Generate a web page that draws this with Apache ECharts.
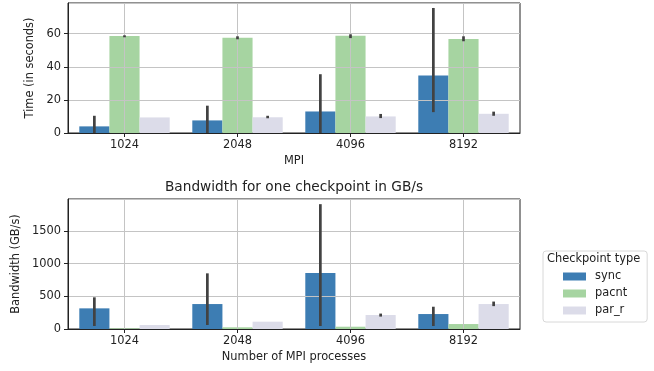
<!DOCTYPE html>
<html>
<head>
<meta charset="utf-8">
<script src="https://cdn.jsdelivr.net/npm/echarts@6/dist/echarts.min.js"></script>
<style>
  html, body { margin: 0; padding: 0; background: #fff; }
  #chart { width: 654px; height: 371px; }
</style>
</head>
<body>
<div id="chart"></div>
<script>
// Process counts on both x axes
const categories = ['1024', '2048', '4096', '8192'];
const seriesNames = ['sync', 'pacnt', 'par_r'];
const colors = ['#3d7db3', '#a6d4a1', '#dcdce9'];

// Checkpoint time in seconds (mean per type)
const timeSync  = [4, 7.6, 13, 34.7];
const timePacnt = [58.5, 57.5, 58.7, 56.7];
const timeParR  = [9.4, 9.5, 10, 11.6];
// Confidence interval bounds [low, high]
const timeSyncCI  = [[0, 10.4], [0, 16.5], [0, 35.5], [12.6, 75.5]];
const timePacntCI = [[57.8, 59], [56.6, 58.4], [57.3, 59.6], [55.4, 58.4]];
const timeParRCI  = [[9.4, 9.4], [8.9, 10.4], [9, 11.5], [10.4, 12.9]];

// Bandwidth in GB/s (mean per type)
const bwSync  = [316, 382, 856, 229];
const bwPacnt = [10, 26, 35, 76];
const bwParR  = [61, 112, 214, 382];
const bwSyncCI  = [[46, 485], [61, 852], [46, 1911], [46, 341]];
const bwPacntCI = [[10, 10], [26, 26], [35, 35], [76, 76]];
const bwParRCI  = [[61, 61], [112, 112], [190, 236], [350, 420]];

const FONT = 'DejaVu Sans';
const FS = 11.4;
const TXT = '#222';

const chart = echarts.init(document.getElementById('chart'), null, { renderer: 'canvas' });

function errSeries(name, ci, k, axisIdx) {
  return {
    type: 'custom',
    name: name + ' ci',
    xAxisIndex: axisIdx,
    yAxisIndex: axisIdx,
    z: 5,
    silent: true,
    data: ci.map((d, i) => [i, d[0], d[1]]),
    encode: { x: 0, y: [1, 2] },
    renderItem: function (params, api) {
      const idx = api.value(0);
      const band = api.size([1, 0])[0];
      const off = (k - 1) * band * 0.8 / 3;
      const lo = api.coord([idx, api.value(1)]);
      const hi = api.coord([idx, api.value(2)]);
      if (Math.abs(lo[1] - hi[1]) < 0.5) return null;
      return {
        type: 'line',
        shape: { x1: lo[0] + off, y1: lo[1], x2: lo[0] + off, y2: hi[1] },
        style: { stroke: '#424242', lineWidth: 2.7 }
      };
    }
  };
}

function barSeries(name, data, k, axisIdx) {
  return {
    type: 'bar',
    name: name,
    xAxisIndex: axisIdx,
    yAxisIndex: axisIdx,
    data: data,
    barGap: '0%',
    barCategoryGap: '20%',
    itemStyle: { color: colors[k] },
    z: 2
  };
}

function xAxisCfg(gridIndex, name) {
  return {
    type: 'category',
    gridIndex: gridIndex,
    data: categories,
    z: 3,
    name: name,
    nameLocation: 'middle',
    nameGap: 23,
    nameTextStyle: { fontFamily: FONT, fontSize: FS, color: TXT },
    axisLine: { show: true, lineStyle: { color: '#222', width: 1 } },
    axisTick: { show: true, alignWithLabel: true, length: 4, lineStyle: { color: '#222' } },
    axisLabel: { fontFamily: FONT, fontSize: FS, color: TXT, margin: 7 },
    splitLine: { show: true, alignWithLabel: true, lineStyle: { color: '#c4c4c4', width: 1 } }
  };
}

function yAxisCfg(gridIndex, name, max, interval, gap) {
  return {
    type: 'value',
    gridIndex: gridIndex,
    min: 0,
    max: max,
    interval: interval,
    z: 3,
    name: name,
    nameLocation: 'middle',
    nameGap: gap,
    nameTextStyle: { fontFamily: FONT, fontSize: FS, color: TXT },
    axisLine: { show: true, lineStyle: { color: '#222', width: 1 } },
    axisTick: { show: true, length: 4, lineStyle: { color: '#222' } },
    axisLabel: {
      fontFamily: FONT, fontSize: FS, color: TXT, margin: 7, showMaxLabel: false,
      formatter: v => String(v)
    },
    splitLine: { show: true, lineStyle: { color: '#c4c4c4', width: 1 } }
  };
}

const option = {
  animation: false,
  backgroundColor: '#fff',
  title: {
    text: 'Bandwidth for one checkpoint in GB/s',
    left: 294,
    top: 180,
    padding: 0,
    textAlign: 'center',
    textStyle: { fontFamily: FONT, fontSize: 13.7, fontWeight: 'normal', color: TXT }
  },
  legend: {
    data: seriesNames,
    orient: 'vertical',
    left: 543,
    top: 251,
    padding: [19, 20, 5, 20],
    itemGap: 4,
    itemWidth: 23,
    itemHeight: 8,
    icon: 'rect',
    borderColor: '#d8d8d8',
    borderWidth: 1,
    borderRadius: 3,
    textStyle: { fontFamily: FONT, fontSize: FS, color: TXT, lineHeight: 13, padding: [0, 0, 0, 4] }
  },
  graphic: [{
    type: 'text',
    left: 547,
    top: 254,
    style: { text: 'Checkpoint type', font: FS + 'px "DejaVu Sans"', fill: TXT }
  }],
  grid: [
    { left: 68, top: 3, width: 452, height: 130, show: true, borderColor: '#222', borderWidth: 1, backgroundColor: 'transparent' },
    { left: 68, top: 199, width: 452, height: 130, show: true, borderColor: '#222', borderWidth: 1, backgroundColor: 'transparent' }
  ],
  xAxis: [xAxisCfg(0, 'MPI'), xAxisCfg(1, 'Number of MPI processes')],
  yAxis: [
    yAxisCfg(0, 'Time (in seconds)', 78.5, 20, 26),
    yAxisCfg(1, 'Bandwidth (GB/s)', 1990, 500, 40)
  ],
  series: [
    barSeries('sync', timeSync, 0, 0),
    barSeries('pacnt', timePacnt, 1, 0),
    barSeries('par_r', timeParR, 2, 0),
    errSeries('sync', timeSyncCI, 0, 0),
    errSeries('pacnt', timePacntCI, 1, 0),
    errSeries('par_r', timeParRCI, 2, 0),
    barSeries('sync', bwSync, 0, 1),
    barSeries('pacnt', bwPacnt, 1, 1),
    barSeries('par_r', bwParR, 2, 1),
    errSeries('sync', bwSyncCI, 0, 1),
    errSeries('pacnt', bwPacntCI, 1, 1),
    errSeries('par_r', bwParRCI, 2, 1)
  ]
};

chart.setOption(option);
</script>
</body>
</html>
